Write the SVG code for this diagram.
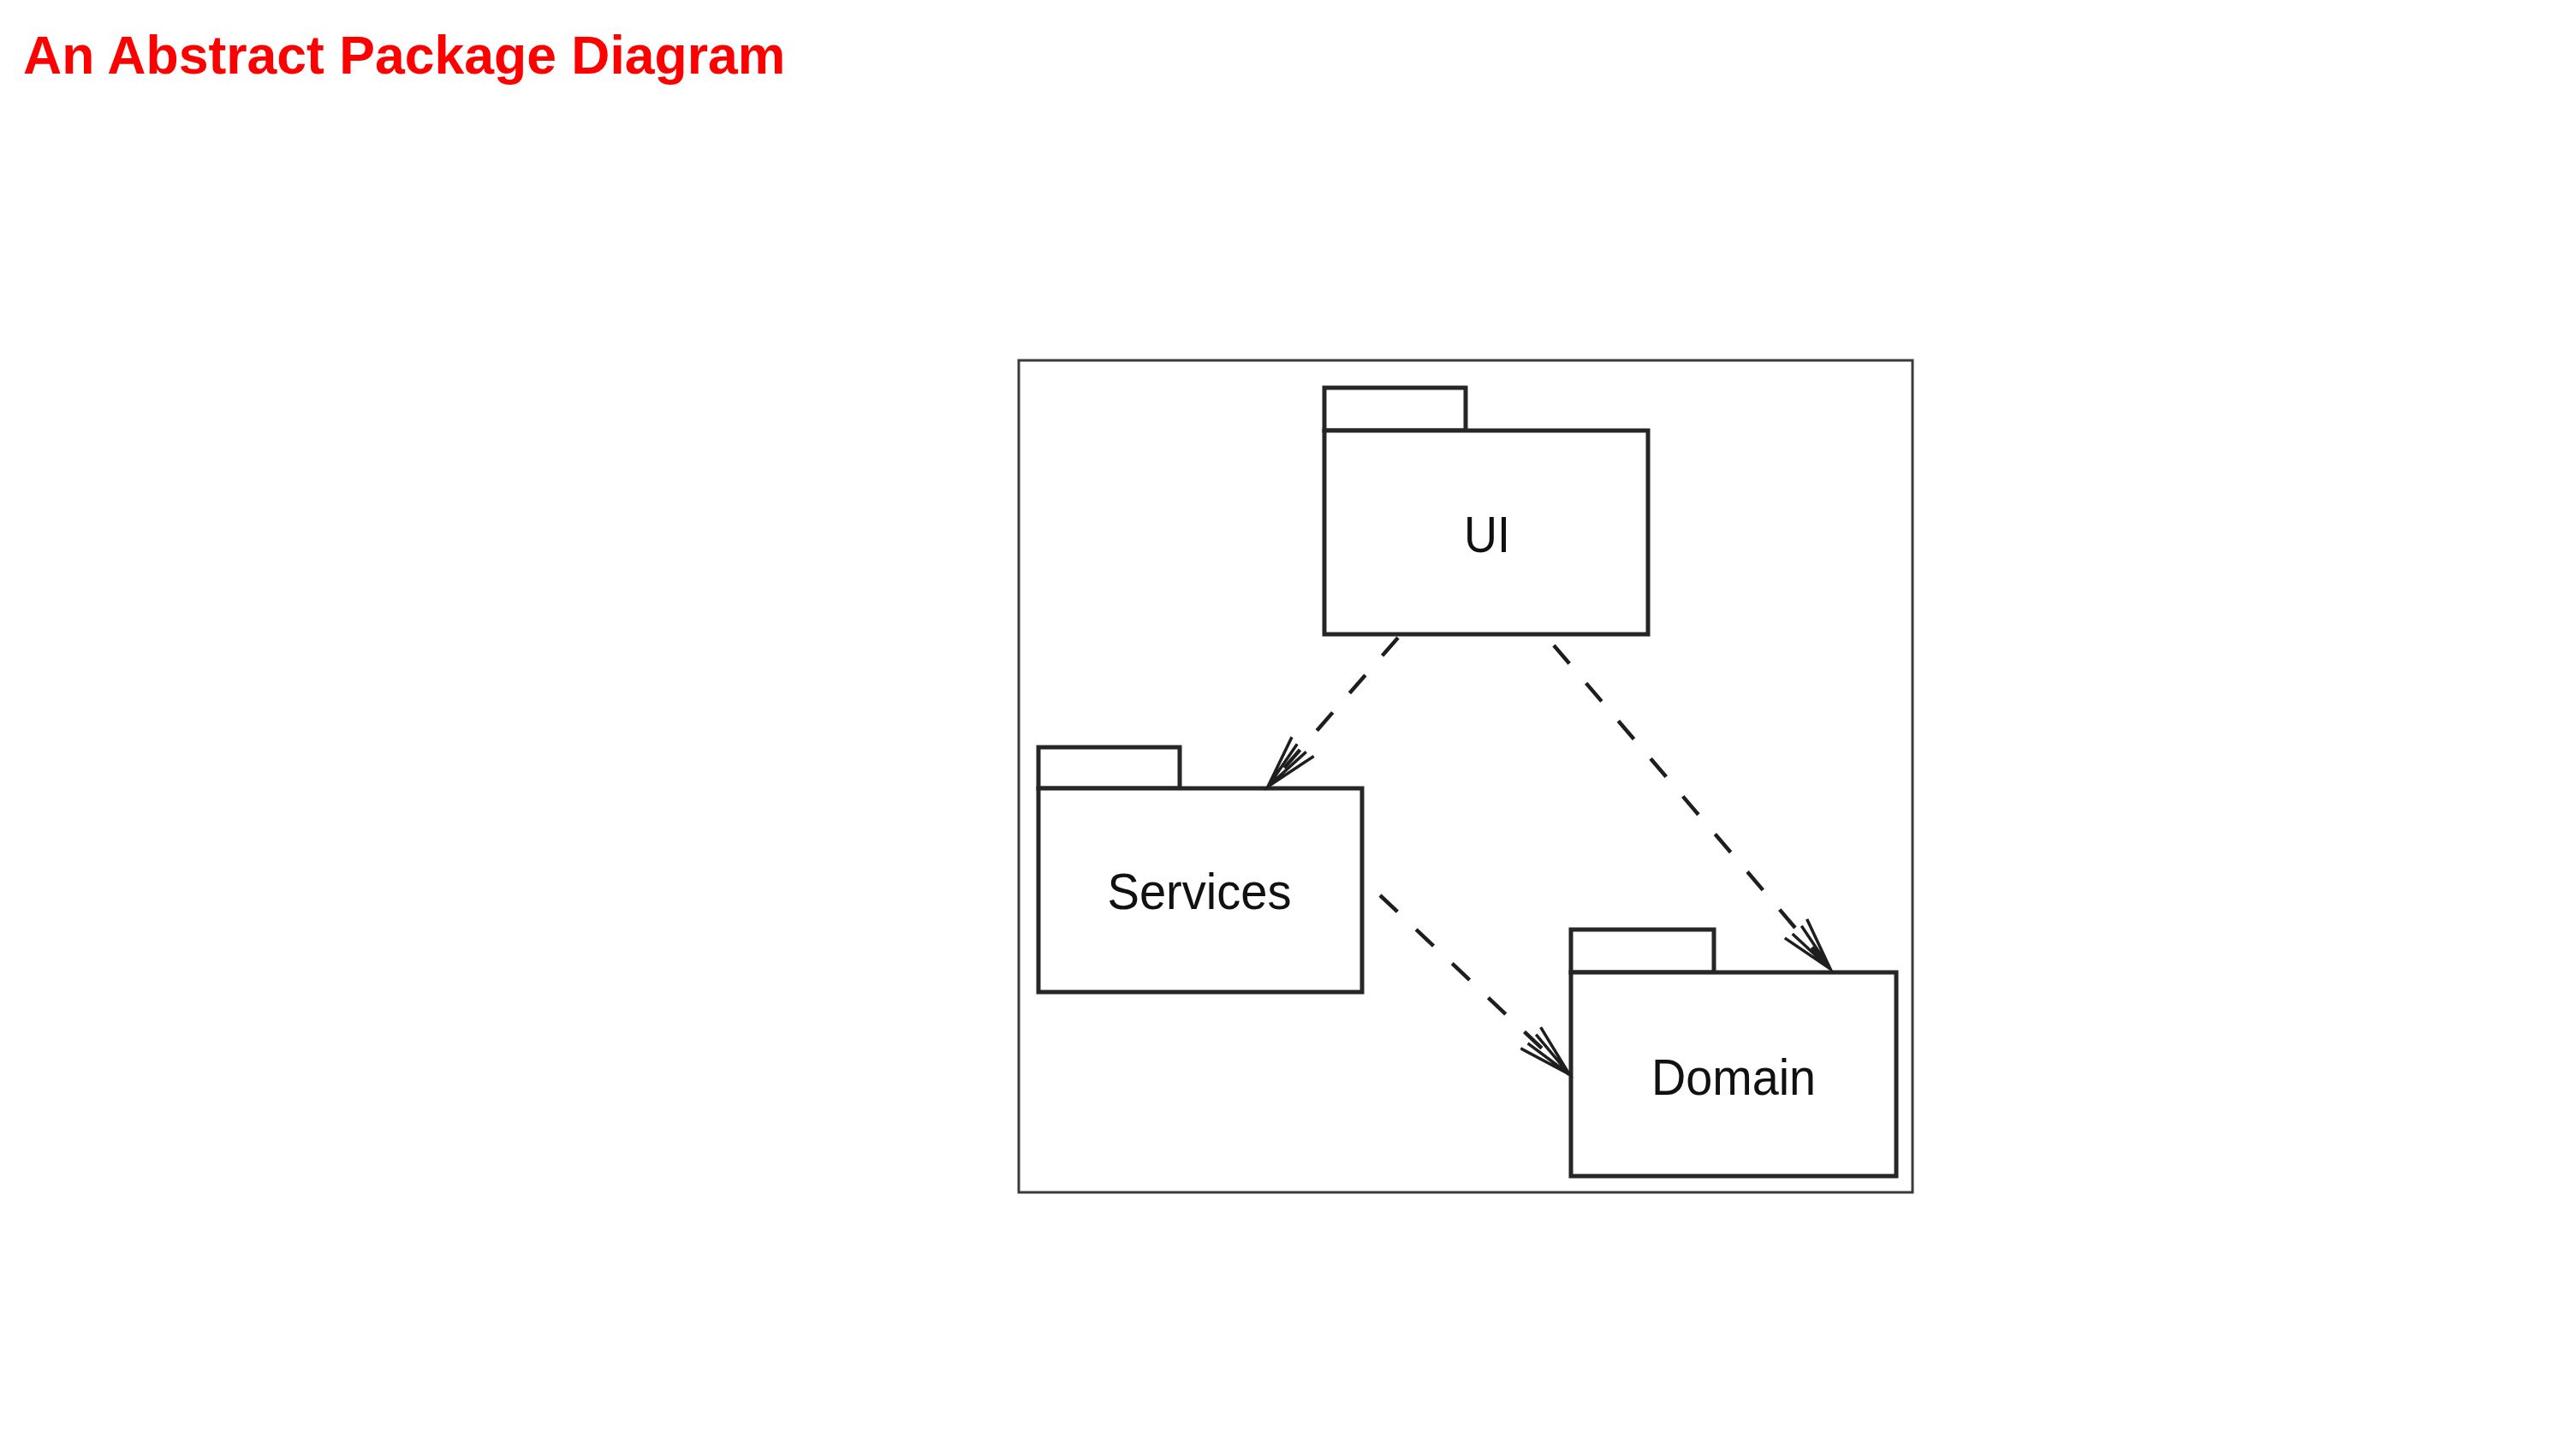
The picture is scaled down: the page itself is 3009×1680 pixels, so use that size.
<svg xmlns="http://www.w3.org/2000/svg" width="3009" height="1680" viewBox="0 0 3009 1680">
<style>
.title{font-family:"Liberation Sans",Arial,sans-serif;font-weight:bold;font-size:62.5px;fill:#ff0000}
.frame{fill:#ffffff;stroke:#3a3a3a;stroke-width:3}
.pkg{fill:#ffffff;stroke:#262626;stroke-width:5}
.label{font-family:"Liberation Sans",Arial,sans-serif;font-size:60px;fill:#111111;text-anchor:middle}
.dep{fill:none;stroke:#1e1e1e;stroke-width:4.5;stroke-dasharray:28 30}
</style>
<defs>
<marker id="open" markerUnits="userSpaceOnUse" markerWidth="80" markerHeight="50" viewBox="-70 -25 80 50" refX="0" refY="0" orient="auto">
<path d="M -62,-17 L 0,0 L -62,17 M -60,-7 L 0,0 L -60,7" fill="none" stroke="#1e1e1e" stroke-width="3.5"/>
</marker>
</defs>
<rect width="3009" height="1680" fill="#ffffff"/>
<text class="title" x="27" y="86">An Abstract Package Diagram</text>
<rect class="frame" x="1190" y="421" width="1044" height="972"/>
<g id="ui">
<rect class="pkg" x="1547" y="453" width="165" height="50"/>
<rect class="pkg" x="1547" y="503" width="378" height="238"/>
<text class="label" x="1737" y="645" textLength="54" lengthAdjust="spacingAndGlyphs">UI</text>
</g>
<g id="services">
<rect class="pkg" x="1213" y="873" width="165" height="48"/>
<rect class="pkg" x="1213" y="921" width="378" height="238"/>
<text class="label" x="1401" y="1062" textLength="215" lengthAdjust="spacingAndGlyphs">Services</text>
</g>
<g id="domain">
<rect class="pkg" x="1835" y="1086" width="167" height="50"/>
<rect class="pkg" x="1835" y="1136" width="380" height="238"/>
<text class="label" x="2025" y="1279" textLength="192" lengthAdjust="spacingAndGlyphs">Domain</text>
</g>
<g id="connectors">
<line class="dep" x1="1633" y1="745" x2="1481" y2="919" marker-end="url(#open)"/>
<line class="dep" x1="1815" y1="754" x2="2138" y2="1132" marker-end="url(#open)"/>
<line class="dep" x1="1612" y1="1046" x2="1833" y2="1255" marker-end="url(#open)"/>
</g>
</svg>
